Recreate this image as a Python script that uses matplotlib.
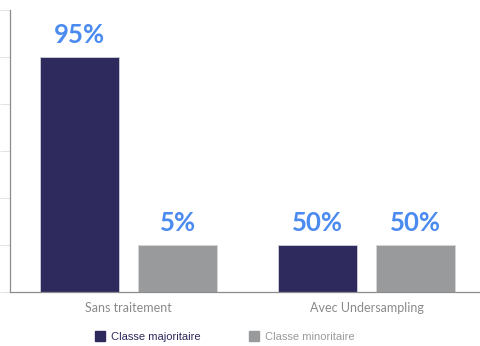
import matplotlib.pyplot as plt
from matplotlib.lines import Line2D
import numpy as np

# Répartition des classes avant / après undersampling
groupes = ["Sans traitement", "Avec Undersampling"]
series = ["Classe majoritaire", "Classe minoritaire"]
# hauteur des barres (effectifs relatifs, en unités de l'axe)
effectifs_major = [5, 1]
effectifs_minor = [1, 1]
# proportion affichée au-dessus de chaque barre
pct_major = [95, 50]
pct_minor = [5, 50]

couleur_major = "#2e2a5e"
couleur_minor = "#999a9c"
couleur_pct = "#4b8bf0"
couleur_axe = "#8c8c8c"

fig = plt.figure(figsize=(4.8, 3.46), dpi=100)
ax = fig.add_axes([10 / 480, 54 / 346, 470 / 480, 282 / 346])

x = np.arange(len(groupes))
largeur = 0.332
decal = 0.206

b1 = ax.bar(x - decal, effectifs_major, largeur, color=couleur_major,
            edgecolor="#d0d0d8", linewidth=0.6)
b2 = ax.bar(x + decal, effectifs_minor, largeur, color=couleur_minor,
            edgecolor="#d6d6d6", linewidth=0.6)

for barres, pcts in ((b1, pct_major), (b2, pct_minor)):
    for b, p in zip(barres, pcts):
        ax.annotate(f"{p}%", (b.get_x() + b.get_width() / 2, b.get_height()),
                    xytext=(0, 7), textcoords="offset points",
                    ha="center", va="bottom", fontsize=18.5, fontweight="bold",
                    family="Lato", color=couleur_pct)

ax.set_xlim(-0.498, 1.477)
ax.set_ylim(0, 6)
ax.set_yticks(range(0, 7))
ax.set_yticklabels([])
ax.set_xticks(x)
ax.set_xticklabels(groupes, family="Lato", fontsize=9, color="#8a8a8a")
ax.tick_params(axis="x", length=0, pad=7)
ax.tick_params(axis="y", length=7, color="#dddddd", width=0.6)

for cote in ("top", "right"):
    ax.spines[cote].set_visible(False)
for cote in ("left", "bottom"):
    ax.spines[cote].set_color(couleur_axe)
    ax.spines[cote].set_linewidth(0.9)

poignees = [Line2D([], [], marker="s", linestyle="none", markersize=7,
                   markerfacecolor=c, markeredgecolor=c)
            for c in (couleur_major, couleur_minor)]
fig.legend(poignees, series, loc="center left", bbox_to_anchor=(79 / 480, 1 - 337 / 346),
           ncol=2, frameon=False, handletextpad=0.0, columnspacing=3.8,
           prop={"family": "Liberation Sans", "size": 8},
           labelcolor=[couleur_major, couleur_minor])

fig.savefig("out.png", dpi=100)
